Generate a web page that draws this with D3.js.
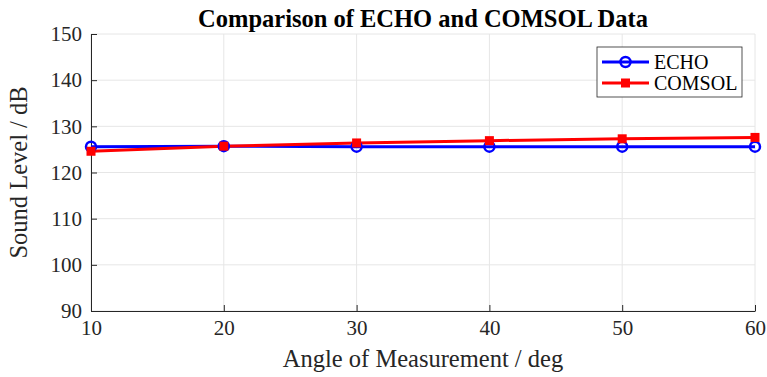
<!DOCTYPE html>
<meta charset="utf-8">
<style>
    body { margin: 0; background: #fff; }
    svg { font-family: "Liberation Serif", "Times New Roman", serif; }
    .grid line { stroke: #e6e6e6; stroke-width: 1; }
    .axis path, .axis line { stroke: #262626; }
    .axis text { fill: #262626; font-size: 21px; font-family: "Liberation Serif", serif; }
</style>
<body>
<script src="https://d3js.org/d3.v7.min.js"></script>
<svg width="767" height="377"></svg>
<script>
    var angles = [10, 20, 30, 40, 50, 60];
    var echo = [125.6, 125.7, 125.6, 125.6, 125.6, 125.6];
    var comsol = [124.6, 125.7, 126.4, 126.9, 127.3, 127.6];
    var yTicks = [90, 100, 110, 120, 130, 140, 150];
    var xTicks = [10, 20, 30, 40, 50, 60];

    var svg = d3.select("svg");
    var plotL = 91, plotR = 755, plotT = 34, plotB = 311;

    var x = d3.scaleLinear().domain([10, 60]).range([plotL, plotR]);
    var y = d3.scaleLinear().domain([90, 150]).range([plotB, plotT]);

    // grid
    svg.append("g").attr("class", "grid")
        .selectAll("line").data(xTicks).enter().append("line")
        .attr("x1", d => x(d)).attr("x2", d => x(d))
        .attr("y1", plotT).attr("y2", plotB);
    svg.append("g").attr("class", "grid")
        .selectAll("line").data(yTicks).enter().append("line")
        .attr("x1", plotL).attr("x2", plotR)
        .attr("y1", d => y(d)).attr("y2", d => y(d));

    // axes
    svg.append("g").attr("class", "axis")
        .attr("transform", "translate(0," + plotB + ")")
        .call(d3.axisBottom(x).tickValues(xTicks).tickSizeInner(-6).tickSizeOuter(0).tickPadding(9))
        .attr("font-family", null);
    svg.append("g").attr("class", "axis")
        .attr("transform", "translate(" + plotL + ",0)")
        .call(d3.axisLeft(y).tickValues(yTicks).tickSizeInner(-6).tickSizeOuter(0).tickPadding(9))
        .attr("font-family", null);

    // lines
    var line = d3.line().x((d, i) => x(angles[i])).y(d => y(d));

    svg.append("path").datum(echo)
        .attr("fill", "none").attr("stroke", "#0000ff").attr("stroke-width", 3)
        .attr("d", line);
    svg.append("path").datum(comsol)
        .attr("fill", "none").attr("stroke", "#ff0000").attr("stroke-width", 3)
        .attr("d", line);

    svg.append("g").selectAll("circle").data(echo).enter().append("circle")
        .attr("cx", (d, i) => x(angles[i])).attr("cy", d => y(d)).attr("r", 5)
        .attr("fill", "none").attr("stroke", "#0000ff").attr("stroke-width", 2.5);
    svg.append("g").selectAll("rect").data(comsol).enter().append("rect")
        .attr("x", (d, i) => x(angles[i]) - 4.5).attr("y", d => y(d) - 4.5)
        .attr("width", 9).attr("height", 9)
        .attr("fill", "#ff0000");

    // title and labels
    svg.append("text")
        .attr("x", (plotL + plotR) / 2).attr("y", 27)
        .attr("text-anchor", "middle")
        .style("font-size", "24.5px").style("font-weight", "bold")
        .text("Comparison of ECHO and COMSOL Data");

    svg.append("text")
        .attr("x", (plotL + plotR) / 2).attr("y", 367)
        .attr("text-anchor", "middle")
        .style("font-size", "24.5px").style("fill", "#262626")
        .text("Angle of Measurement / deg");

    svg.append("text")
        .attr("transform", "translate(27," + (plotT + plotB) / 2 + ") rotate(-90)")
        .attr("text-anchor", "middle")
        .style("font-size", "24.5px").style("fill", "#262626")
        .text("Sound Level / dB");

    // legend
    var lg = svg.append("g").attr("transform", "translate(597,47)");
    lg.append("rect").attr("width", 145).attr("height", 50)
        .attr("fill", "#fff").attr("stroke", "#262626").attr("stroke-width", 0.8);
    lg.append("line").attr("x1", 5).attr("x2", 52).attr("y1", 15).attr("y2", 15)
        .attr("stroke", "#0000ff").attr("stroke-width", 3);
    lg.append("circle").attr("cx", 28.5).attr("cy", 15).attr("r", 5)
        .attr("fill", "none").attr("stroke", "#0000ff").attr("stroke-width", 2.5);
    lg.append("text").attr("x", 57).attr("y", 22).style("font-size", "20px").text("ECHO");
    lg.append("line").attr("x1", 5).attr("x2", 52).attr("y1", 36).attr("y2", 36)
        .attr("stroke", "#ff0000").attr("stroke-width", 3);
    lg.append("rect").attr("x", 24).attr("y", 31.5).attr("width", 9).attr("height", 9)
        .attr("fill", "#ff0000");
    lg.append("text").attr("x", 57).attr("y", 43).style("font-size", "20px").text("COMSOL");
</script>
</body>
